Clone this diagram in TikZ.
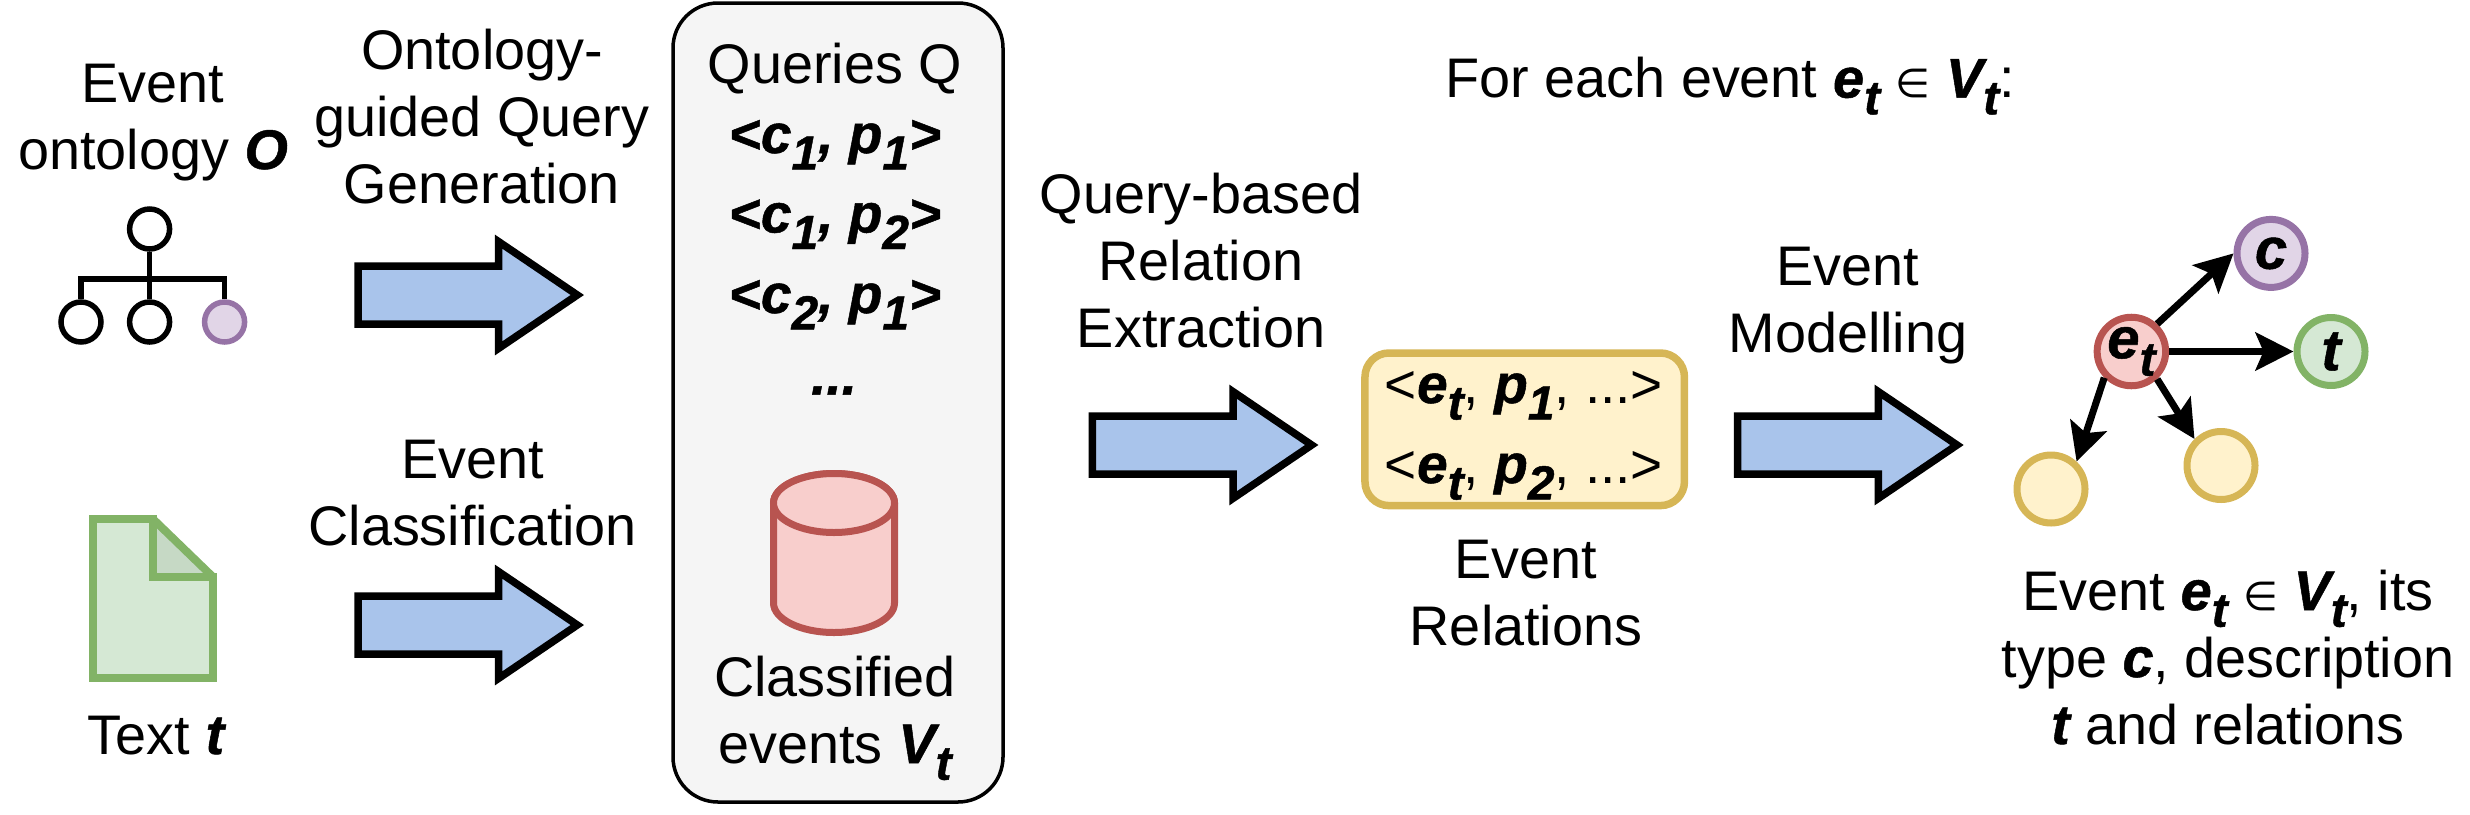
\documentclass[tikz,border=0pt]{standalone}
\usepackage{fontspec}
\setmainfont{Liberation Sans}
\newfontfamily\symf{DejaVu Sans}
\newfontface\bif{Liberation Sans Bold Italic}[FakeBold=0.9]
\usetikzlibrary{arrows.meta}
\newcommand\bi[1]{{\bif #1}}
\newcommand\lowsub[1]{\raisebox{-0.3em}{\fontsize{48}{48}\selectfont\bif #1}}
\newcommand\inn{{\symf\fontsize{40}{40}\selectfont ∈}}
\definecolor{arrowblue}{HTML}{A9C4EB}
\definecolor{greyfill}{HTML}{F5F5F5}
\definecolor{redfill}{HTML}{F8CECC}
\definecolor{redline}{HTML}{B85450}
\definecolor{yelfill}{HTML}{FFF2CC}
\definecolor{yelline}{HTML}{D6B656}
\definecolor{purfill}{HTML}{E1D5E7}
\definecolor{purline}{HTML}{9673A6}
\definecolor{grefill}{HTML}{D5E8D4}
\definecolor{greline}{HTML}{82B366}
\definecolor{foldfill}{HTML}{C6D9C5}
\tikzset{
  lab/.style={inner sep=0pt,align=center,anchor=base,font=\fontsize{55.8}{67}\selectfont},
  qlab/.style={inner sep=0pt,anchor=base,font=\fontsize{55}{60}\selectfont},
  rlab/.style={inner sep=0pt,anchor=base,font=\fontsize{55}{60}\selectfont},
  bigarrow/.style={draw=black,fill=arrowblue,line width=7.5pt,line join=miter,miter limit=20},
  ontcirc/.style={circle,draw=black,line width=5.5pt,minimum size=40pt,inner sep=0pt},
  gnode/.style={circle,line width=7pt,minimum size=68pt,inner sep=0pt,font=\fontsize{58}{58}\selectfont},
  gedge/.style={line width=7pt,-{Stealth[length=38pt,width=38pt,inset=8pt]}},
  tree/.style={line width=5.5pt,line cap=butt}
}
\newcommand\blockarrow[2]{%
  \draw[bigarrow,shift={(#1,#2)}] (0,-29) -- (140.7,-29) -- (140.7,-53.3) -- (219.3,0) -- (140.7,53.3) -- (140.7,29) -- (0,29) -- cycle;}
\begin{document}
\begin{tikzpicture}[x=1pt,y=-1pt]
\useasboundingbox (0,0) rectangle (2470,814);
% left column
\node[lab] (ontlab) at (153,169) {Event\\ontology \bi{O}};
\node[ontcirc] (top) at (149.6,229) {};
\node[ontcirc] (b1) at (81,322) {};
\node[ontcirc] (b2) at (149.6,322) {};
\node[ontcirc,draw=purline,fill=purfill] (b3) at (224.6,322) {};
\coordinate (bar1) at (81,279);
\coordinate (bar2) at (149.6,279);
\coordinate (bar3) at (224.6,279);
\draw[tree] (top) -- (b2);
\draw[tree,line cap=rect] (bar1) -- (bar3);
\draw[tree] (bar1) -- (b1);
\draw[tree] (bar3) -- (b3);
% document
\fill[foldfill] (153,519) -- (213,577) -- (153,577) -- cycle;
\draw[draw=greline,fill=grefill,line width=8pt,line join=miter] (93,519) -- (153,519) -- (153,577) -- (213,577) -- (213,678) -- (93,678) -- cycle;
\draw[draw=greline,line width=8pt,line join=bevel] (153,519) -- (213,577);
\node[lab] (textlab) at (156,754) {Text \bi{t}};
% upper labels
\node[lab] (genlab) at (482,203.5) {Ontology-\\guided Query\\Generation};
\node[lab] (clslab) at (472.7,545) {Event\\Classification};
\blockarrow{358}{295}
\blockarrow{358}{625}
% queries box
\node[draw=black,fill=greyfill,line width=3.5pt,rounded corners=45pt,minimum width=330pt,minimum height=799pt,inner sep=0pt] (qbox) at (838,402.5) {};
\node[lab] (qlab0) at (835,83) {Queries Q};
\node[qlab] (q1) at (835,153) {\bi{<c\lowsub{1}, p\lowsub{1}>}};
\node[qlab] (q2) at (835,232.5) {\bi{<c\lowsub{1}, p\lowsub{2}>}};
\node[qlab] (q3) at (835,313) {\bi{<c\lowsub{2}, p\lowsub{1}>}};
\node[qlab] (q4) at (834,394.5) {\bi{...}};
% cylinder
\draw[draw=redline,fill=redfill,line width=7pt] (773.5,503) -- (773.5,603) arc[start angle=180,end angle=360,x radius=60.5,y radius=-29.5] -- (894.5,503) arc[start angle=0,end angle=180,x radius=60.5,y radius=-29.5] -- cycle;
\draw[draw=redline,fill=redfill,line width=7pt] (834,503) ellipse[x radius=60.5,y radius=29.5];
\node[lab] (clab) at (835,763) {Classified\\events \bi{V\lowsub{t}}};
% middle
\node[lab] (qbre) at (1201,347) {Query-based\\Relation\\Extraction};
\blockarrow{1092.4}{445}
\node[draw=yelline,fill=yelfill,line width=7.5pt,rounded corners=24pt,minimum width=319.5pt,minimum height=152.6pt,inner sep=0pt] (rel) at (1524.7,429.3) {};
\node[rlab] (r1) at (1524,403) {<\bi{e\lowsub{t}}, \bi{p\lowsub{1}}, ...>};
\node[rlab] (r2) at (1524,483) {<\bi{e\lowsub{t}}, \bi{p\lowsub{2}}, ...>};
\node[lab] (rellab) at (1526,645) {Event\\Relations};
\node[lab] (modlab) at (1848,352) {Event\\Modelling};
\blockarrow{1737.7}{445}
% top right
\node[lab] (foreach) at (1730,97.6) {For each event \bi{e\lowsub{t}} \inn{} \bi{V\lowsub{t}}:};
% graph
\node[gnode,draw=redline,fill=redfill] (e) at (2131.4,351.5) {\bi{e\lowsub{t}}};
\node[gnode,draw=purline,fill=purfill] (c) at (2271,253.4) {\bi{c}};
\node[gnode,draw=greline,fill=grefill] (t) at (2331,351.5) {\bi{t}};
\node[gnode,draw=yelline,fill=yelfill] (y1) at (2051,489) {};
\node[gnode,draw=yelline,fill=yelfill] (y2) at (2221,465.5) {};
\draw[gedge] (e.47) -- (c.180);
\draw[gedge] (e.east) -- (t.west);
\draw[gedge] (e.224) -- (y1.47);
\draw[gedge] (e.313) -- (y2.135);
\node[lab] (cap) at (2228,744) {Event \bi{e\lowsub{t}} \inn{} \bi{V\lowsub{t}}, its\\type \bi{c}, description\\\bi{t} and relations};
\end{tikzpicture}
\end{document}
